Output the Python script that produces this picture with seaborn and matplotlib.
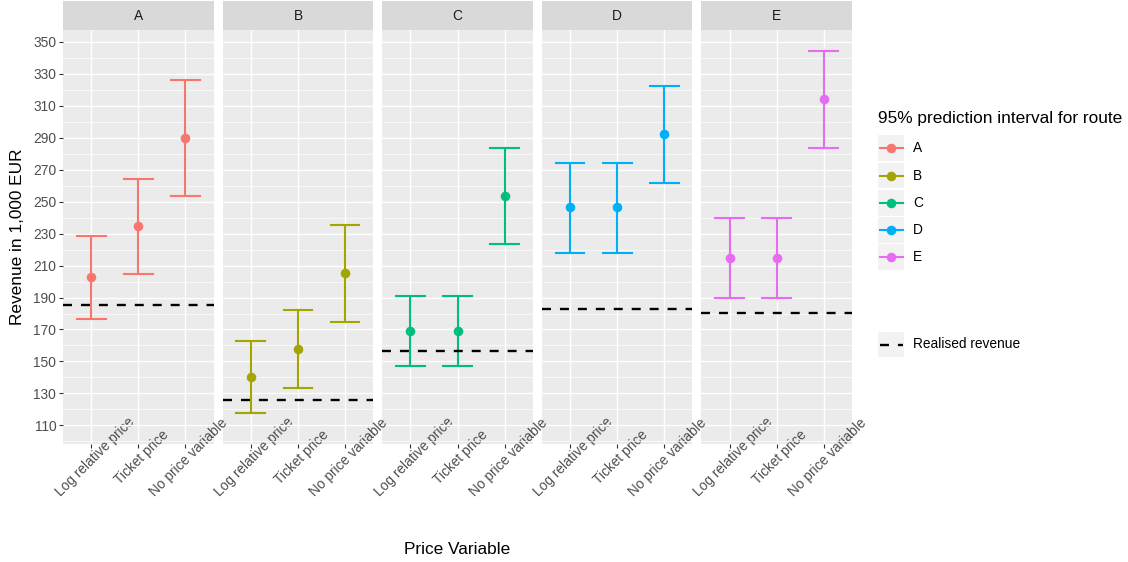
import numpy as np
import pandas as pd
import matplotlib
matplotlib.use("Agg")
import matplotlib.pyplot as plt
import matplotlib.transforms as mtransforms
from matplotlib.patches import Rectangle
from matplotlib.ticker import FixedLocator
import seaborn as sns

# ---------------- data ----------------
routes = ["A", "B", "C", "D", "E"]
price_vars = ["Log relative price", "Ticket price", "No price variable"]
lower = [[176.4, 205.0, 253.4],
         [118.0, 133.2, 174.9],
         [147.0, 147.0, 223.7],
         [218.1, 218.1, 261.9],
         [190.0, 190.0, 283.6]]
mid = [[202.9, 234.6, 289.9],
       [140.3, 157.8, 205.2],
       [169.3, 169.3, 253.8],
       [246.5, 246.5, 292.6],
       [215.0, 215.0, 314.3]]
upper = [[228.8, 264.0, 326.0],
         [162.6, 182.2, 235.2],
         [191.2, 191.2, 283.6],
         [274.2, 274.2, 322.5],
         [239.6, 239.6, 344.4]]
realised = [185.4, 125.9, 156.6, 183.1, 180.3]
y_major = [110, 130, 150, 170, 190, 210, 230, 250, 270, 290, 310, 330, 350]
y_minor = [100, 120, 140, 160, 180, 200, 220, 240, 260, 280, 300, 320, 340]
colors = ["#F8766D", "#A3A500", "#00BF7D", "#00B0F6", "#E76BF3"]

rows = []
for ri, r in enumerate(routes):
    for vi, v in enumerate(price_vars):
        for val in (lower[ri][vi], mid[ri][vi], upper[ri][vi]):
            rows.append({"route": r, "var": v, "value": val})
df = pd.DataFrame(rows)

# ---------------- figure ----------------
plt.rcParams["font.family"] = ["Liberation Sans", "DejaVu Sans"]
W, H = 1128, 562
fig = plt.figure(figsize=(W / 100, H / 100), dpi=100)
fig.patch.set_facecolor("white")

pw, gap = 150.7, 8.9
ptop, pbot = 30, 444
axes = []
for i, r in enumerate(routes):
    left = 63 + i * (pw + gap)
    ax = fig.add_axes([left / W, 1 - pbot / H, pw / W, (pbot - ptop) / H],
                      sharey=axes[0] if axes else None)
    ax.set_zorder(10 - i)
    axes.append(ax)
    sub = df[df["route"] == r]
    sns.pointplot(data=sub, x="var", y="value", order=price_vars,
                  estimator="median", errorbar=("pi", 100), capsize=0.61,
                  color=colors[i], linestyle="none", markersize=6.9,
                  markeredgewidth=0, err_kws={"linewidth": 1.5}, ax=ax)
    ax.axhline(realised[i], color="black", lw=1.7, dashes=(3.8, 3.8), zorder=3)
    ax.set_xlim(-0.6, 2.6)
    ax.set_ylim(98.3, 357.5)
    ax.set_facecolor("#EBEBEB")
    for s in ax.spines.values():
        s.set_visible(False)
    ax.set_axisbelow(True)
    ax.yaxis.set_major_locator(FixedLocator(y_major))
    ax.yaxis.set_minor_locator(FixedLocator(y_minor))
    ax.grid(which="major", color="white", lw=1.0)
    ax.grid(which="minor", axis="y", color="white", lw=0.5)
    ax.tick_params(which="minor", length=0)
    ax.tick_params(axis="x", length=2.9, width=0.8, color="#333333",
                   pad=6.5, labelsize=9.9, labelcolor="#4D4D4D")
    ax.set_xlabel("")
    ax.set_ylabel("")
    offset = mtransforms.ScaledTranslation(3.5 / 100, 0, fig.dpi_scale_trans)
    for lab in ax.get_xticklabels():
        lab.set_rotation(45)
        lab.set_ha("center")
        lab.set_va("center")
        lab.set_rotation_mode("anchor")
        lab.set_transform(lab.get_transform() + offset)
    if i == 0:
        ax.tick_params(axis="y", length=2.9, width=0.8, color="#333333",
                       pad=2, labelsize=9.9, labelcolor="#4D4D4D")
    else:
        ax.tick_params(axis="y", which="both", length=0, labelleft=False)
    # facet strip
    sh = 29 / (pbot - ptop)
    ax.add_patch(Rectangle((0, 1), 1, sh, transform=ax.transAxes,
                           facecolor="#D9D9D9", edgecolor="none", clip_on=False))
    ax.text(0.5, 1 + sh / 2, r, transform=ax.transAxes, ha="center",
            va="center", fontsize=9.9, color="#1A1A1A")

fig.text(17.5 / W, 1 - 237 / H, "Revenue in 1,000 EUR", rotation=90,
         ha="center", va="center", fontsize=12.4)
fig.text(457.5 / W, 1 - 550 / H, "Price Variable", ha="center",
         va="center", fontsize=12.4)

# ---------------- legend ----------------
lg = fig.add_axes([0, 0, 1, 1])
lg.set_zorder(20)
lg.set_xlim(0, W)
lg.set_ylim(H, 0)
lg.axis("off")
lg.patch.set_alpha(0)
lg.text(878.3, 118.3, "95% prediction interval for route", ha="left",
        va="center", fontsize=12.4)
for i, r in enumerate(routes):
    yc = 148.3 + i * 27.2
    lg.add_patch(Rectangle((878, yc - 12.9), 26, 25.8, facecolor="#F2F2F2",
                           edgecolor="none"))
    lg.plot([880, 902.7], [yc, yc], color=colors[i], lw=1.5)
    lg.plot([891], [yc], marker="o", color=colors[i], markersize=6.9,
            markeredgewidth=0)
    lg.text(913.3, yc, r, ha="left", va="center", fontsize=9.9)
yc = 344.5
lg.add_patch(Rectangle((878, yc - 12.9), 26, 25.8, facecolor="#F2F2F2",
                       edgecolor="none"))
lg.plot([880, 903], [yc, yc], color="black", lw=1.7, dashes=(3.8, 3.8))
lg.text(913.3, yc, "Realised revenue", ha="left", va="center", fontsize=9.9)

fig.savefig("out.png", dpi=100)
